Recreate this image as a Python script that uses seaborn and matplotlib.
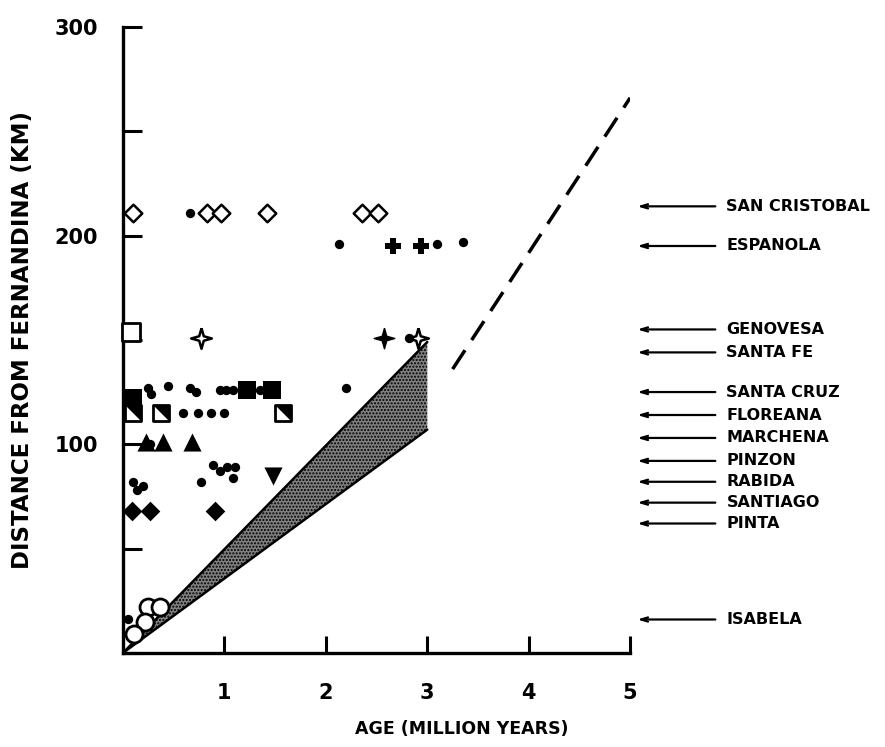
import matplotlib
matplotlib.use('Agg')
import matplotlib.pyplot as plt
import seaborn as sns

# --- data (age in Ma, distance in km) ---
open_diamond_x = [0.10, 0.83, 0.97, 1.42, 2.36, 2.51]
open_diamond_y = [211, 211, 211, 211, 211, 211]

dot_x = [0.66, 2.13, 3.10, 3.35, 2.82,
         0.25, 0.28, 0.44, 0.66, 0.72, 0.96, 1.02, 1.08, 1.35, 2.20,
         0.59, 0.74, 0.87, 1.00,
         0.27,
         0.89, 0.96, 1.03, 1.10, 1.08, 0.77,
         0.10, 0.20, 0.14,
         0.05]
dot_y = [211, 196, 196, 197, 151,
         127, 124, 128, 127, 125, 126, 126, 126, 126, 127,
         115, 115, 115, 115,
         100,
         90, 87, 89, 89, 84, 82,
         82, 80, 78,
         16]

filled_square_x = [0.10, 1.22, 1.47]
filled_square_y = [122, 126, 126]
half_square_x = [0.10, 0.37, 1.58]
half_square_y = [115, 115, 115]
triangle_x = [0.23, 0.39, 0.68]
triangle_y = [101, 101, 101]
down_triangle_x = [1.48]
down_triangle_y = [85]
filled_diamond_x = [0.09, 0.27, 0.91]
filled_diamond_y = [68, 68, 68]
open_circle_x = [0.25, 0.36, 0.22, 0.11]
open_circle_y = [22, 22, 15, 9]
open_square_x = [0.08]
open_square_y = [154]
open_star_x = [0.77, 2.91]
open_star_y = [151, 151]
filled_star_x = [2.57]
filled_star_y = [151]
cross_x = [2.66, 2.94]
cross_y = [195, 195]

wedge_age = [0, 3]
wedge_low = [0, 107]
wedge_high = [0, 149]

trend_age = [3.25, 5.0]
trend_dist = [136, 266]

islands = ['SAN CRISTOBAL', 'ESPANOLA', 'GENOVESA', 'SANTA FE', 'SANTA CRUZ',
           'FLOREANA', 'MARCHENA', 'PINZON', 'RABIDA', 'SANTIAGO', 'PINTA', 'ISABELA']
island_dist = [214, 195, 155, 144, 125, 114, 103, 92, 82, 72, 62, 16]

sns.set_style('ticks')
plt.rcParams['font.family'] = ['DejaVu Sans']
plt.rcParams['font.weight'] = 'bold'
for key in ['text.color', 'axes.labelcolor', 'xtick.color', 'ytick.color', 'axes.edgecolor']:
    plt.rcParams[key] = 'black'

fig = plt.figure(figsize=(8.85, 7.47), dpi=100)
ax = fig.add_axes([0.139, 0.126, 0.573, 0.838])

star = [(0, 1), (0.22, 0.22), (1, 0), (0.22, -0.22), (0, -1),
        (-0.22, -0.22), (-1, 0), (-0.22, 0.22), (0, 1)]
upper_tri = [(-1, 1), (1, 1), (1, -1), (-1, 1)]

# shaded wedge and dashed trend
ax.fill_between(wedge_age, wedge_low, wedge_high, facecolor='#808080',
                edgecolor='black', hatch='.....', linewidth=0, zorder=1)
sns.lineplot(x=wedge_age, y=wedge_low, color='black', lw=1.8, ax=ax, zorder=2)
sns.lineplot(x=wedge_age, y=wedge_high, color='black', lw=1.8, ax=ax, zorder=2)
sns.lineplot(x=trend_age, y=trend_dist, color='black', lw=2.5, ax=ax,
             linestyle=(0, (6.5, 3.5)), zorder=2)

kw = dict(ax=ax, legend=False, zorder=3, clip_on=False)
sns.scatterplot(x=open_diamond_x, y=open_diamond_y, marker='D', s=80,
                color='white', edgecolor='black', linewidth=1.8, **kw)
sns.scatterplot(x=open_square_x, y=open_square_y, marker='s', s=170,
                color='white', edgecolor='black', linewidth=2, **kw)
sns.scatterplot(x=open_circle_x, y=open_circle_y, marker='o', s=150,
                color='white', edgecolor='black', linewidth=2, **kw)
sns.scatterplot(x=half_square_x, y=half_square_y, marker='s', s=130,
                color='white', edgecolor='black', linewidth=2, **kw)
sns.scatterplot(x=half_square_x, y=half_square_y, marker=upper_tri, s=130,
                color='black', edgecolor='black', linewidth=0, **kw)
sns.scatterplot(x=open_star_x, y=open_star_y, marker=star, s=220,
                color='white', edgecolor='black', linewidth=1.8, **kw)
sns.scatterplot(x=filled_star_x, y=filled_star_y, marker=star, s=220,
                color='black', edgecolor='black', linewidth=1, **kw)
sns.scatterplot(x=dot_x, y=dot_y, marker='o', s=45,
                color='black', edgecolor='black', linewidth=0, **kw)
sns.scatterplot(x=filled_square_x, y=filled_square_y, marker='s', s=160,
                color='black', edgecolor='black', linewidth=0, **kw)
sns.scatterplot(x=triangle_x, y=triangle_y, marker='^', s=170,
                color='black', edgecolor='black', linewidth=0, **kw)
sns.scatterplot(x=down_triangle_x, y=down_triangle_y, marker='v', s=170,
                color='black', edgecolor='black', linewidth=0, **kw)
sns.scatterplot(x=filled_diamond_x, y=filled_diamond_y, marker='D', s=100,
                color='black', edgecolor='black', linewidth=0, **kw)
sns.scatterplot(x=cross_x, y=cross_y, marker='P', s=130,
                color='black', edgecolor='black', linewidth=0, **kw)

# island labels with arrows on the right
for name, d in zip(islands, island_dist):
    ax.annotate('', xy=(5.07, d), xytext=(5.84, d), annotation_clip=False,
                arrowprops=dict(arrowstyle='->,head_length=0.5,head_width=0.15',
                                color='black', lw=1.6, shrinkA=0, shrinkB=0))
    ax.text(5.95, d, name, va='center', ha='left', fontsize=11.5,
            fontweight='bold', clip_on=False)

ax.set_xlim(0, 5)
ax.set_ylim(0, 300)
ax.set_xticks([1, 2, 3, 4, 5])
ax.set_xticklabels(['1', '2', '3', '4', '5'])
ax.set_yticks([0, 50, 100, 150, 200, 250, 300])
ax.set_yticklabels(['', '', '100', '', '200', '', '300'])
ax.tick_params(direction='in', length=14, width=2.2, labelsize=15, pad=18)
ax.tick_params(axis='x', length=12, pad=22)
for side in ['top', 'right']:
    ax.spines[side].set_visible(False)
for side in ['left', 'bottom']:
    ax.spines[side].set_linewidth(2.4)

ax.set_xlabel('AGE (MILLION YEARS)', fontsize=12.5, fontweight='bold')
ax.set_ylabel('DISTANCE FROM FERNANDINA (KM)', fontsize=16.5, fontweight='bold')
ax.xaxis.set_label_coords(0.667, -0.108)
ax.yaxis.set_label_coords(-0.175, 0.5)

fig.savefig('out.png', dpi=100)
